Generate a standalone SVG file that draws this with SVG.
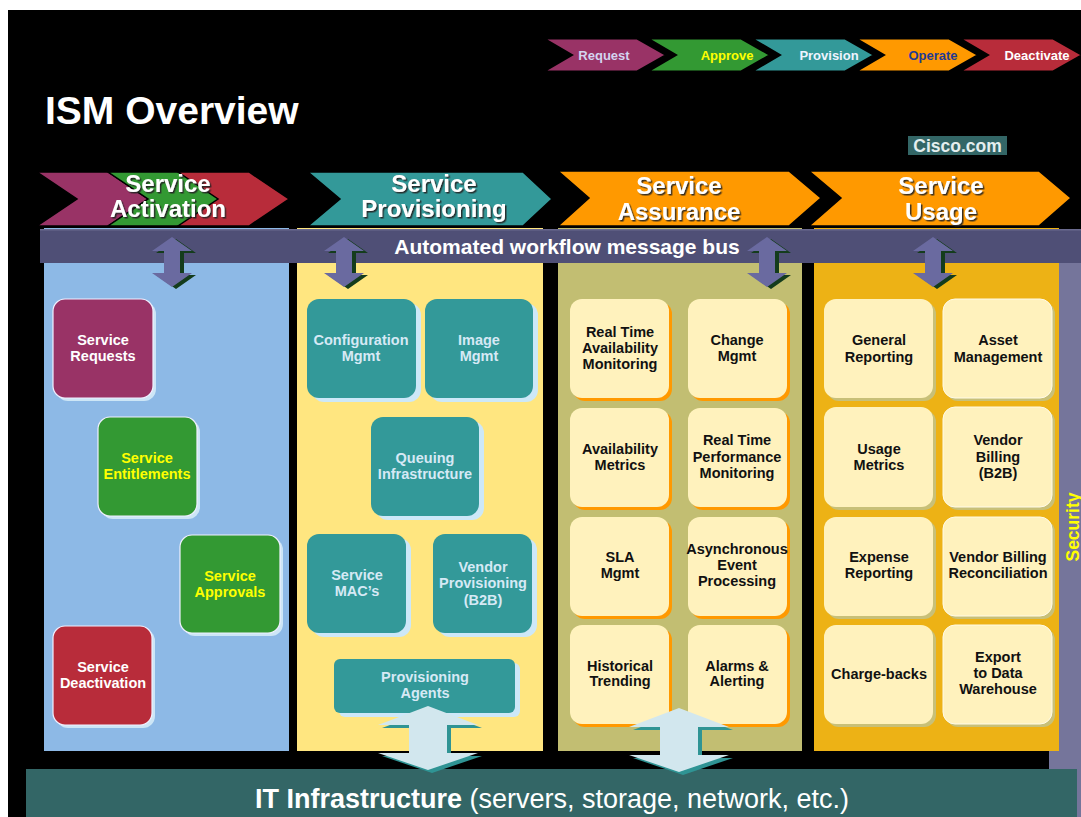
<svg xmlns="http://www.w3.org/2000/svg" width="1081" height="817" viewBox="0 0 1081 817">
  <style>
    .sans { font-family: "Liberation Sans", Arial, sans-serif; font-weight: bold; }
    .chev { stroke: #000; stroke-width: 3; stroke-linejoin: miter; }
    .bigchev { stroke: #000; stroke-width: 1.5; }
    .phase { font-size: 13px; text-anchor: middle; }
    .stage { font-size: 24px; text-anchor: middle; fill: #fff; filter: url(#txtShadow); }
    .node { font-size: 14.5px; text-anchor: middle; }
    .dark { fill: #111; }
    .provTxt { fill: #d6e9f5; }
    .white { fill: #fff; }
    .yellow { fill: #ffff00; }
    .teal { fill: #339999; }
    .cream { fill: #fff2bd; }
  </style>
  <defs>
    <filter id="txtShadow" x="-10%" y="-20%" width="130%" height="150%">
      <feDropShadow dx="1.5" dy="1.5" stdDeviation="0.4" flood-color="#222" flood-opacity="0.9"/>
    </filter>
    <!-- small double-headed bus arrow, centred at x=0, top tip at y=0 -->
    <g id="busArrow">
      <path d="M4,2 L24,16 L12,16 L12,38 L24,38 L4,52 L-16,38 L-4,38 L-4,16 L-16,16 Z" fill="#143c1c"/>
      <path d="M0,0 L20,14 L8,14 L8,36 L20,36 L0,50 L-20,36 L-8,36 L-8,14 L-20,14 Z" fill="#6a6aa0"/>
    </g>
    <!-- large double-headed arrow to the infrastructure bar -->
    <g id="infraArrow">
      <path d="M4,3 L54,22 L23,22 L23,50 L54,50 L4,67 L-46,50 L-15,50 L-15,22 L-46,22 Z" fill="#2f9494"/>
      <path d="M0,0 L50,19 L19,19 L19,47 L50,47 L0,64 L-50,47 L-19,47 L-19,19 L-50,19 Z" fill="#d2e7ee"/>
    </g>
  </defs>

  <!-- page -->
  <rect x="0" y="0" width="1081" height="817" fill="#fff"/>
  <rect x="8" y="10" width="1073" height="807" fill="#000"/>

  <!-- lifecycle phases -->
  <g id="phases" class="sans">
    <polygon class="chev" points="542,38 637,38 667,55 637,72 542,72 571,55" fill="#993366"/>
    <polygon class="chev" points="646,38 741,38 771,55 741,72 646,72 675,55" fill="#339933"/>
    <polygon class="chev" points="750,38 845,38 875,55 845,72 750,72 779,55" fill="#339999"/>
    <polygon class="chev" points="854,38 949,38 979,55 949,72 854,72 883,55" fill="#ff9900"/>
    <polygon class="chev" points="958,38 1053,38 1083,55 1053,72 958,72 987,55" fill="#b82c3a"/>
    <text class="phase" x="604" y="60" fill="#d4d4f0">Request</text>
    <text class="phase" x="727" y="60" fill="#ffff00">Approve</text>
    <text class="phase" x="829" y="60" fill="#eef4ff">Provision</text>
    <text class="phase" x="933" y="60" fill="#1f3a93">Operate</text>
    <text class="phase" x="1037" y="60" fill="#fff">Deactivate</text>
  </g>

  <text class="sans" x="45" y="124" font-size="39" fill="#fff">ISM Overview</text>

  <g id="cisco">
    <rect x="908" y="136" width="99" height="19" fill="#336666"/>
    <text class="sans" x="957.5" y="152" font-size="17.5" text-anchor="middle" fill="#e4eeee">Cisco.com</text>
  </g>

  <!-- security strip along the right edge -->
  <g id="security">
    <rect x="1049" y="258" width="32" height="559" fill="#75759b"/>
    <text class="sans" x="0" y="0" font-size="17.5" fill="#ffff00" text-anchor="middle" transform="translate(1079,527) rotate(-90)">Security</text>
  </g>

  <!-- functional columns -->
  <rect id="col-activation" x="44" y="228" width="245" height="523" fill="#8db9e6"/>
  <rect id="col-provisioning" x="297" y="228" width="246" height="523" fill="#ffe680"/>
  <rect id="col-assurance" x="558" y="228" width="244" height="523" fill="#c2be72"/>
  <rect id="col-usage" x="814" y="228" width="245" height="523" fill="#edb215"/>

  <!-- message bus -->
  <g id="bus">
    <rect x="40" y="229" width="1041" height="34" fill="#4f4f76"/>
    <rect x="40" y="229" width="1041" height="1.5" fill="#6a6a8e"/>
    <text class="sans" x="567" y="254" font-size="21" text-anchor="middle" fill="#fff">Automated workflow message bus</text>
  </g>

  <!-- stage headers -->
  <g id="stage-activation" class="sans">
    <polygon class="bigchev" points="37,172 108,172 148,199 108,226 37,226 77,199" fill="#993366"/>
    <polygon class="bigchev" points="108,172 179,172 219,199 179,226 108,226 148,199" fill="#339933"/>
    <polygon class="bigchev" points="178,172 249,172 289,199 249,226 178,226 218,199" fill="#b82c3a"/>
    <text class="stage" x="168" y="192">Service</text>
    <text class="stage" x="168" y="217">Activation</text>
  </g>
  <g id="stage-provisioning" class="sans">
    <polygon class="bigchev" points="308,172 523,172 552,199 523,226 308,226 340,199" fill="#339999"/>
    <text class="stage" x="434" y="192">Service</text>
    <text class="stage" x="434" y="217">Provisioning</text>
  </g>
  <g id="stage-assurance" class="sans">
    <polygon class="bigchev" points="558,171 789,171 821,198 789,226 558,226 589,198" fill="#ff9900"/>
    <text class="stage" x="679" y="194">Service</text>
    <text class="stage" x="679" y="220">Assurance</text>
  </g>
  <g id="stage-usage" class="sans">
    <polygon class="bigchev" points="809,171 1039,171 1071,198 1039,226 809,226 841,198" fill="#ff9900"/>
    <text class="stage" x="941" y="194">Service</text>
    <text class="stage" x="941" y="220">Usage</text>
  </g>

  <!-- Service Activation nodes -->
  <g id="service-requests" class="sans node">
    <rect x="56" y="302" width="100" height="99" rx="12" fill="#cde6f6"/>
    <rect x="53" y="299" width="100" height="99" rx="12" fill="#993366" stroke="#f0f0ff" stroke-width="1.2"/>
    <text class="white" x="103" y="345">Service</text>
    <text class="white" x="103" y="361">Requests</text>
  </g>
  <g id="service-entitlements" class="sans node">
    <rect x="101" y="420" width="99" height="99" rx="12" fill="#cde6f6"/>
    <rect x="98" y="417" width="99" height="99" rx="12" fill="#339933" stroke="#f0f0ff" stroke-width="1.2"/>
    <text class="yellow" x="147" y="463">Service</text>
    <text class="yellow" x="147" y="479">Entitlements</text>
  </g>
  <g id="service-approvals" class="sans node">
    <rect x="183" y="538" width="100" height="98" rx="12" fill="#cde6f6"/>
    <rect x="180" y="535" width="100" height="98" rx="12" fill="#339933" stroke="#f0f0ff" stroke-width="1.2"/>
    <text class="yellow" x="230" y="581">Service</text>
    <text class="yellow" x="230" y="597">Approvals</text>
  </g>
  <g id="service-deactivation" class="sans node">
    <rect x="56" y="629" width="99" height="99" rx="12" fill="#cde6f6"/>
    <rect x="53" y="626" width="99" height="99" rx="12" fill="#b82c3a" stroke="#f0f0ff" stroke-width="1.2"/>
    <text class="white" x="103" y="672">Service</text>
    <text class="white" x="103" y="688">Deactivation</text>
  </g>

  <!-- Service Provisioning nodes -->
  <g id="configuration-mgmt" class="sans node">
    <rect x="312" y="303" width="109" height="99" rx="12" fill="#cde8f8"/>
    <rect x="307" y="299" width="109" height="99" rx="12" class="teal"/>
    <text class="provTxt" x="361" y="345">Configuration</text>
    <text class="provTxt" x="361" y="361">Mgmt</text>
  </g>
  <g id="image-mgmt" class="sans node">
    <rect x="430" y="303" width="108" height="99" rx="12" fill="#cde8f8"/>
    <rect x="425" y="299" width="108" height="99" rx="12" class="teal"/>
    <text class="provTxt" x="479" y="345">Image</text>
    <text class="provTxt" x="479" y="361">Mgmt</text>
  </g>
  <g id="queuing-infrastructure" class="sans node">
    <rect x="376" y="421" width="108" height="99" rx="12" fill="#cde8f8"/>
    <rect x="371" y="417" width="108" height="99" rx="12" class="teal"/>
    <text class="provTxt" x="425" y="463">Queuing</text>
    <text class="provTxt" x="425" y="479">Infrastructure</text>
  </g>
  <g id="service-macs" class="sans node">
    <rect x="312" y="538" width="99" height="99" rx="12" fill="#cde8f8"/>
    <rect x="307" y="534" width="99" height="99" rx="12" class="teal"/>
    <text class="provTxt" x="357" y="580">Service</text>
    <text class="provTxt" x="357" y="596">MAC’s</text>
  </g>
  <g id="vendor-provisioning" class="sans node">
    <rect x="438" y="538" width="99" height="99" rx="12" fill="#cde8f8"/>
    <rect x="433" y="534" width="99" height="99" rx="12" class="teal"/>
    <text class="provTxt" x="483" y="572">Vendor</text>
    <text class="provTxt" x="483" y="588">Provisioning</text>
    <text class="provTxt" x="483" y="605">(B2B)</text>
  </g>
  <g id="provisioning-agents" class="sans node">
    <rect x="339" y="663" width="181" height="54" rx="6" fill="#cde8f8"/>
    <rect x="334" y="659" width="181" height="54" rx="6" class="teal"/>
    <text class="provTxt" x="425" y="682">Provisioning</text>
    <text class="provTxt" x="425" y="698">Agents</text>
  </g>

  <!-- Service Assurance nodes -->
  <g id="rt-availability" class="sans node">
    <rect x="573" y="302" width="99" height="99" rx="12" fill="#ff9900"/>
    <rect x="570" y="299" width="99" height="99" rx="12" class="cream"/>
    <text class="dark" x="620" y="337">Real Time</text>
    <text class="dark" x="620" y="353">Availability</text>
    <text class="dark" x="620" y="369">Monitoring</text>
  </g>
  <g id="change-mgmt" class="sans node">
    <rect x="691" y="302" width="99" height="99" rx="12" fill="#ff9900"/>
    <rect x="688" y="299" width="99" height="99" rx="12" class="cream"/>
    <text class="dark" x="737" y="345">Change</text>
    <text class="dark" x="737" y="361">Mgmt</text>
  </g>
  <g id="availability-metrics" class="sans node">
    <rect x="573" y="411" width="99" height="99" rx="12" fill="#ff9900"/>
    <rect x="570" y="408" width="99" height="99" rx="12" class="cream"/>
    <text class="dark" x="620" y="454">Availability</text>
    <text class="dark" x="620" y="470">Metrics</text>
  </g>
  <g id="rt-performance" class="sans node">
    <rect x="691" y="411" width="99" height="99" rx="12" fill="#ff9900"/>
    <rect x="688" y="408" width="99" height="99" rx="12" class="cream"/>
    <text class="dark" x="737" y="445">Real Time</text>
    <text class="dark" x="737" y="462">Performance</text>
    <text class="dark" x="737" y="478">Monitoring</text>
  </g>
  <g id="sla-mgmt" class="sans node">
    <rect x="573" y="520" width="99" height="99" rx="12" fill="#ff9900"/>
    <rect x="570" y="517" width="99" height="99" rx="12" class="cream"/>
    <text class="dark" x="620" y="562">SLA</text>
    <text class="dark" x="620" y="578">Mgmt</text>
  </g>
  <g id="async-events" class="sans node">
    <rect x="691" y="520" width="99" height="99" rx="12" fill="#ff9900"/>
    <rect x="688" y="517" width="99" height="99" rx="12" class="cream"/>
    <text class="dark" x="737" y="554">Asynchronous</text>
    <text class="dark" x="737" y="570">Event</text>
    <text class="dark" x="737" y="586">Processing</text>
  </g>
  <g id="historical-trending" class="sans node">
    <rect x="573" y="628" width="99" height="99" rx="12" fill="#ff9900"/>
    <rect x="570" y="625" width="99" height="99" rx="12" class="cream"/>
    <text class="dark" x="620" y="671">Historical</text>
    <text class="dark" x="620" y="686">Trending</text>
  </g>
  <g id="alarms-alerting" class="sans node">
    <rect x="691" y="628" width="99" height="99" rx="12" fill="#ff9900"/>
    <rect x="688" y="625" width="99" height="99" rx="12" class="cream"/>
    <text class="dark" x="737" y="671">Alarms &amp;</text>
    <text class="dark" x="737" y="686">Alerting</text>
  </g>

  <!-- Service Usage nodes -->
  <g id="general-reporting" class="sans node">
    <rect x="827" y="302" width="109" height="99" rx="12" fill="#c8c078"/>
    <rect x="824" y="299" width="109" height="99" rx="12" class="cream"/>
    <text class="dark" x="879" y="345">General</text>
    <text class="dark" x="879" y="362">Reporting</text>
  </g>
  <g id="asset-management" class="sans node">
    <rect x="946" y="302" width="109" height="99" rx="12" fill="#c8c078"/>
    <rect x="943" y="299" width="109" height="99" rx="12" class="cream" stroke="#fffbe8" stroke-width="1"/>
    <text class="dark" x="998" y="345">Asset</text>
    <text class="dark" x="998" y="362">Management</text>
  </g>
  <g id="usage-metrics" class="sans node">
    <rect x="827" y="410" width="109" height="100" rx="12" fill="#c8c078"/>
    <rect x="824" y="407" width="109" height="100" rx="12" class="cream"/>
    <text class="dark" x="879" y="454">Usage</text>
    <text class="dark" x="879" y="470">Metrics</text>
  </g>
  <g id="vendor-billing" class="sans node">
    <rect x="946" y="410" width="109" height="100" rx="12" fill="#c8c078"/>
    <rect x="943" y="407" width="109" height="100" rx="12" class="cream" stroke="#fffbe8" stroke-width="1"/>
    <text class="dark" x="998" y="445">Vendor</text>
    <text class="dark" x="998" y="462">Billing</text>
    <text class="dark" x="998" y="478">(B2B)</text>
  </g>
  <g id="expense-reporting" class="sans node">
    <rect x="827" y="520" width="109" height="99" rx="12" fill="#c8c078"/>
    <rect x="824" y="517" width="109" height="99" rx="12" class="cream"/>
    <text class="dark" x="879" y="562">Expense</text>
    <text class="dark" x="879" y="578">Reporting</text>
  </g>
  <g id="vendor-billing-reconciliation" class="sans node">
    <rect x="946" y="520" width="109" height="99" rx="12" fill="#c8c078"/>
    <rect x="943" y="517" width="109" height="99" rx="12" class="cream" stroke="#fffbe8" stroke-width="1"/>
    <text class="dark" x="998" y="562">Vendor Billing</text>
    <text class="dark" x="998" y="578">Reconciliation</text>
  </g>
  <g id="charge-backs" class="sans node">
    <rect x="827" y="628" width="109" height="99" rx="12" fill="#c8c078"/>
    <rect x="824" y="625" width="109" height="99" rx="12" class="cream"/>
    <text class="dark" x="879" y="679">Charge-backs</text>
  </g>
  <g id="export-dw" class="sans node">
    <rect x="946" y="628" width="109" height="99" rx="12" fill="#c8c078"/>
    <rect x="943" y="625" width="109" height="99" rx="12" class="cream" stroke="#fffbe8" stroke-width="1"/>
    <text class="dark" x="998" y="662">Export</text>
    <text class="dark" x="998" y="678">to Data</text>
    <text class="dark" x="998" y="694">Warehouse</text>
  </g>

  <!-- infrastructure bar -->
  <g id="it-infrastructure">
    <rect x="26" y="769" width="1051" height="48" fill="#336666"/>
    <text x="552" y="808" font-family="Liberation Sans, Arial, sans-serif" font-size="27" text-anchor="middle" fill="#fff"><tspan font-weight="bold">IT Infrastructure</tspan> (servers, storage, network, etc.)</text>
  </g>

  <!-- connectors: bus taps and infrastructure links -->
  <g id="connectors">
    <use href="#busArrow" transform="translate(172,237)"/>
    <use href="#busArrow" transform="translate(344,237)"/>
    <use href="#busArrow" transform="translate(767,237)"/>
    <use href="#busArrow" transform="translate(933,237)"/>
    <use href="#infraArrow" transform="translate(428,706)"/>
    <use href="#infraArrow" transform="translate(679,708)"/>
  </g>
</svg>
